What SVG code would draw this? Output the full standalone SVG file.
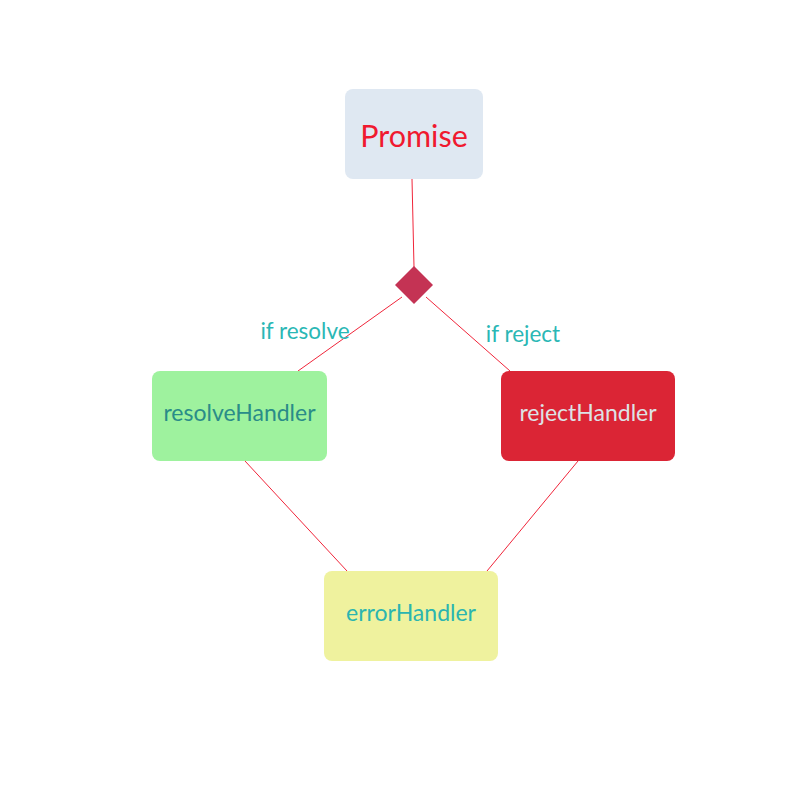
<svg xmlns="http://www.w3.org/2000/svg" width="800" height="800" viewBox="0 0 800 800">
<style>
.lbl{font-family:"Lato","Noto Sans",sans-serif;text-anchor:middle;dominant-baseline:central}
.edge{stroke:#f0253a;stroke-width:1;fill:none}
.elbl{font-family:"Lato","Noto Sans",sans-serif;font-size:22.5px;fill:#2ab7b5;text-anchor:middle;dominant-baseline:central}
</style>
<rect width="800" height="800" fill="#ffffff"/>
<g id="connectors">
<line class="edge" x1="412" y1="179" x2="414" y2="267"/>
<line class="edge" x1="402" y1="297" x2="298" y2="371"/>
<line class="edge" x1="426" y1="297" x2="510" y2="371"/>
<line class="edge" x1="245" y1="461" x2="347" y2="571"/>
<line class="edge" x1="578" y1="461" x2="487" y2="571"/>
<text class="elbl" x="305" y="330">if resolve</text>
<text class="elbl" x="523" y="333">if reject</text>
</g>
<g id="promise">
<rect x="345" y="89" width="138" height="90" rx="8" fill="#dfe8f2"/>
<text class="lbl" x="414" y="135" font-size="30.5" fill="#f0192f">Promise</text>
</g>
<g id="decision">
<polygon points="414,266 433,285 414,304 395,285" fill="#c43354"/>
</g>
<g id="resolveHandler">
<rect x="152" y="371" width="175" height="90" rx="8" fill="#9ef29e"/>
<text class="lbl" x="239.5" y="412" font-size="23" fill="#2a8c88">resolveHandler</text>
</g>
<g id="rejectHandler">
<rect x="501" y="371" width="174" height="90" rx="8" fill="#db2535"/>
<text class="lbl" x="588" y="412" font-size="23" fill="#dde2e6">rejectHandler</text>
</g>
<g id="errorHandler">
<rect x="324" y="571" width="174" height="90" rx="8" fill="#eff29e"/>
<text class="lbl" x="411" y="612" font-size="23" fill="#2bb5b0">errorHandler</text>
</g>
</svg>
